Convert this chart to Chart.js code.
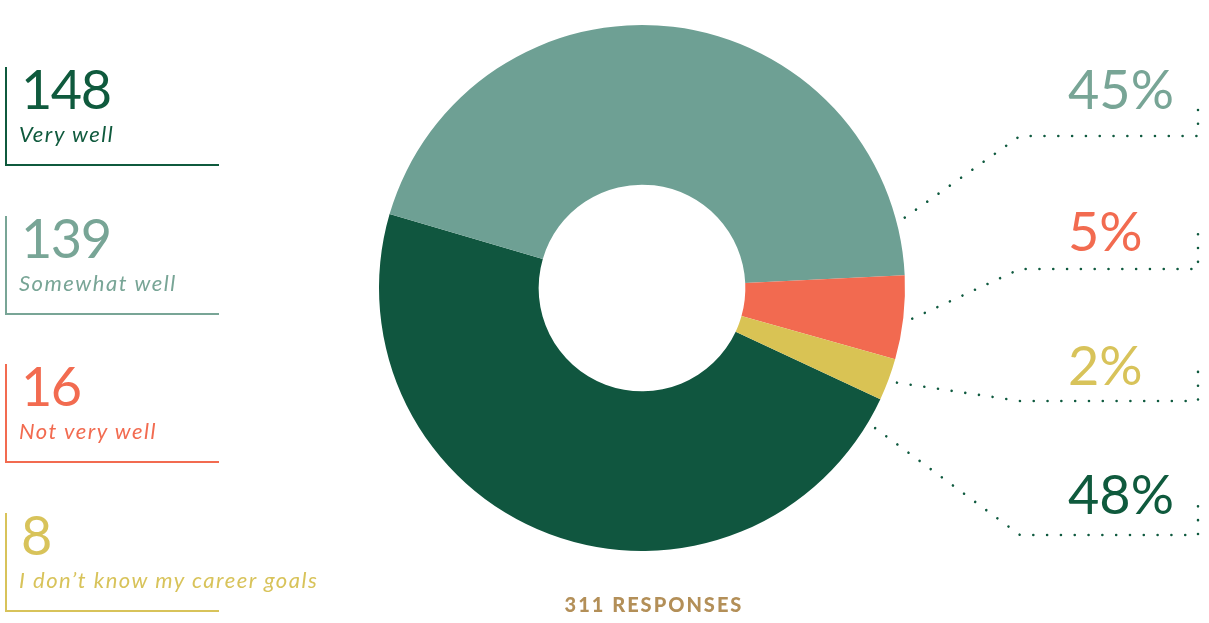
<!DOCTYPE html>
<html>
<head>
<meta charset="utf-8">
<script src="https://cdn.jsdelivr.net/npm/chart.js@4"></script>
<style>
  html, body { margin: 0; padding: 0; background: #fff; }
  #wrap { position: relative; width: 1209px; height: 623px; overflow: hidden; font-family: Lato, "Open Sans", sans-serif; }
  #chart { position: absolute; left: 0; top: 0; }
  .box { position: absolute; left: 5px; width: 212px; height: 97px; border-left: 2px solid; border-bottom: 2px solid; }
  .box .num { position: absolute; left: 14px; top: -5px; font-size: 54px; line-height: 54px; font-weight: 400; letter-spacing: -1.5px; white-space: nowrap; }
  .box .lbl { position: absolute; left: 12px; top: 56px; font-size: 22px; line-height: 22px; font-style: italic; letter-spacing: 1.5px; white-space: nowrap; }
  .pct { position: absolute; left: 1068px; font-size: 54px; line-height: 54px; font-weight: 400; white-space: nowrap; }
  #total { position: absolute; left: 0; width: 1308px; top: 594px; text-align: center; font-size: 20px; line-height: 20px; font-weight: 900; letter-spacing: 2px; color: #b38f58; }
</style>
</head>
<body>
<div id="wrap">
  <canvas id="chart" width="1209" height="623"></canvas>
  <div id="legend"></div>
  <div id="pcts"></div>
  <div id="total"></div>
</div>
<script>
const categories = ['Very well', 'Somewhat well', 'Not very well', "I don\u2019t know my career goals"];
const counts = [148, 139, 16, 8];
const pctLabels = ['48%', '45%', '5%', '2%'];
const sliceColors = ['#10563f', '#6ea094', '#f26a50', '#d9c354'];
const textColors = ['#0f5a3d', '#78a596', '#f26b50', '#d8c35a'];

// layout of the call-outs on the right (label baseline, leader line y), same order as data
const calloutBaselines = [515, 110, 252, 386];
const leaderY = [535, 136, 269, 401];

function initLegend() {
    const legend = document.getElementById('legend');
    categories.forEach((cat, i) => {
        const box = document.createElement('div');
        box.className = 'box';
        box.style.top = (67 + i * 148.7) + 'px';
        box.style.borderColor = textColors[i];
        box.style.color = textColors[i];
        box.innerHTML = `<div class="num">${counts[i]}</div><div class="lbl">${cat}</div>`;
        legend.appendChild(box);
    });

    const pcts = document.getElementById('pcts');
    pctLabels.forEach((p, i) => {
        const d = document.createElement('div');
        d.className = 'pct';
        d.textContent = p;
        d.style.color = textColors[i];
        d.style.top = (calloutBaselines[i] - 48) + 'px';
        pcts.appendChild(d);
    });

    const total = counts.reduce((a, b) => a + b, 0);
    document.getElementById('total').textContent = `${total} RESPONSES`;
}

const leaderPlugin = {
    id: 'leaders',
    afterDatasetsDraw(chart) {
        const ctx = chart.ctx;
        const arcs = chart.getDatasetMeta(0).data;
        const lo = -15 * Math.PI / 180, hi = 31 * Math.PI / 180;
        ctx.save();
        ctx.strokeStyle = '#0f5a3f';
        ctx.lineWidth = 2.6;
        ctx.lineCap = 'round';
        ctx.setLineDash([0.01, 13.8]);
        arcs.forEach((arc, i) => {
            let mid = (arc.startAngle + arc.endAngle) / 2;
            while (mid > Math.PI) mid -= 2 * Math.PI;
            while (mid < -Math.PI) mid += 2 * Math.PI;
            const a = Math.min(hi, Math.max(lo, mid));
            const r = arc.outerRadius + 9;
            const sx = arc.x + r * Math.cos(a);
            const sy = arc.y + r * Math.sin(a);
            ctx.beginPath();
            ctx.moveTo(sx, sy);
            ctx.lineTo(1020, leaderY[i]);
            ctx.lineTo(1198, leaderY[i]);
            ctx.lineTo(1198, leaderY[i] - 37);
            ctx.stroke();
        });
        ctx.restore();
    }
};

function initChart() {
    const ctx = document.getElementById('chart').getContext('2d');
    new Chart(ctx, {
        type: 'doughnut',
        data: {
            labels: categories,
            datasets: [{
                data: counts,
                backgroundColor: sliceColors,
                borderWidth: 0
            }]
        },
        options: {
            responsive: false,
            animation: false,
            rotation: 115,
            cutout: '39.3%',
            layout: { padding: { left: 378, right: 303, top: 25, bottom: 72 } },
            plugins: {
                legend: { display: false },
                tooltip: { enabled: false }
            }
        },
        plugins: [leaderPlugin]
    });
}

initLegend();
initChart();
</script>
</body>
</html>
